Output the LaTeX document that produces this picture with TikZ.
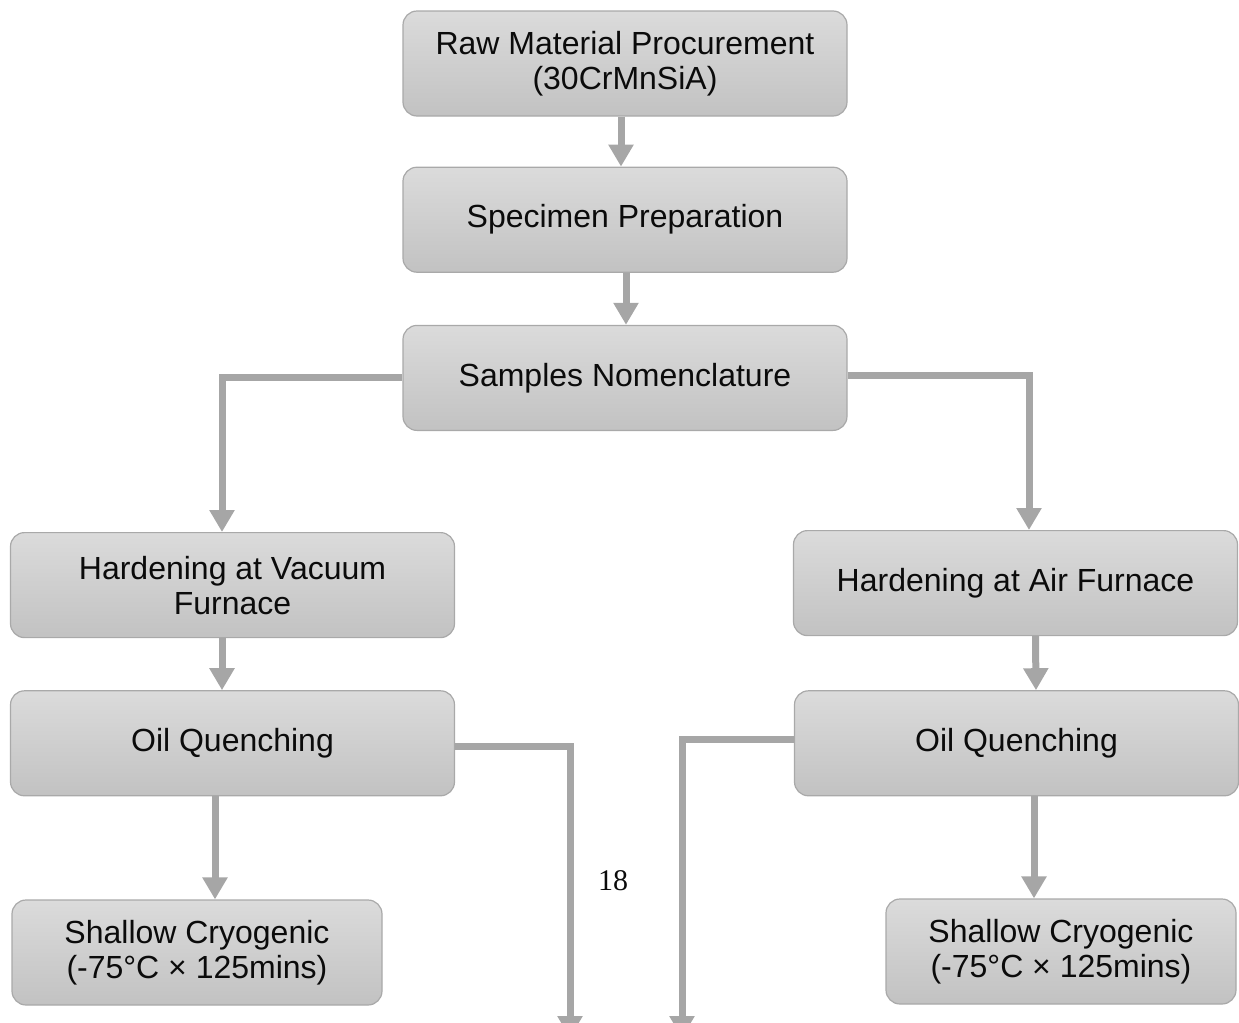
\documentclass[tikz,border=0pt]{standalone}
\usepackage{fontspec}
\setmainfont{Liberation Serif}
\setsansfont{Liberation Sans}
\usetikzlibrary{positioning,calc,arrows.meta}
\definecolor{flowtop}{HTML}{DBDBDB}
\definecolor{flowbot}{HTML}{C2C2C2}
\definecolor{flowedge}{HTML}{A9A9A9}
\definecolor{flowlink}{HTML}{A6A6A6}
\definecolor{flowink}{HTML}{0B0B0B}

\begin{document}
\begin{tikzpicture}[
  font=\sffamily\fontsize{16}{17.5}\selectfont, >={Triangle[length=11pt, width=12pt]},
  box/.style={draw=flowedge, line width=0.6pt, rounded corners=7pt, top color=flowtop, bottom color=flowbot, minimum width=222pt, minimum height=52.5pt, inner sep=2pt, align=center, text=flowink},
  link/.style={->, draw=flowlink, line width=3.5pt},
  pagenum/.style={font=\rmfamily\fontsize{15}{18}\selectfont, text=flowink}]
\useasboundingbox (0,0) rectangle (619.5pt,-511.5pt);
% main chain
\node[box] (raw) at (312.5pt,-31.75pt) {Raw Material Procurement\\(30CrMnSiA)};
\node[box, below=25pt of raw] (spec) {Specimen Preparation};
\node[box, below=26pt of spec] (samp) {Samples Nomenclature};
% vacuum branch
\node[box, below=50.5pt of samp, xshift=-196.25pt] (vac) {Hardening at Vacuum\\Furnace};
\node[box, below=26pt of vac] (oilL) {Oil Quenching};
\node[box, below=51.5pt of oilL, xshift=-17.75pt, minimum width=185pt] (cryoL) {Shallow Cryogenic\\(-75°C × 125mins)};
% air branch
\node[box, below=49.5pt of samp, xshift=195.25pt] (air) {Hardening at Air Furnace};
\node[box, below=27pt of air, xshift=0.5pt] (oilR) {Oil Quenching};
\node[box, below=51pt of oilR, xshift=22.25pt, minimum width=175pt] (cryoR) {Shallow Cryogenic\\(-75°C × 125mins)};
% page number
\node[pagenum] (pnum) at (306.5pt,-440.5pt) {18};
% continuing off the page
\coordinate (outL) at (285pt,-519pt);
\coordinate (outR) at (341pt,-519pt);
% links
\draw[link] ([xshift=-2pt]raw.south) -- ([xshift=-2pt]spec.north);
\draw[link] ([xshift=0.5pt]spec.south) -- ([xshift=0.5pt]samp.north);
\draw[link] (samp.west) -| ([xshift=-5.25pt]vac.north);
\draw[link] ([yshift=1.25pt]samp.east) -| ([xshift=6.75pt]air.north);
\draw[link] ([xshift=-5.25pt]vac.south) -- ([xshift=-5.25pt]oilL.north);
\draw[link] ([xshift=10pt]air.south) -- ([xshift=9.75pt]oilR.north);
\draw[link] ([xshift=9pt]cryoL.north |- oilL.south) -- ([xshift=9pt]cryoL.north);
\draw[link] ([xshift=-13.5pt]cryoR.north |- oilR.south) -- ([xshift=-13.5pt]cryoR.north);
\draw[link] ([yshift=-1.5pt]oilL.east) -| (outL);
\draw[link] ([yshift=1.75pt]oilR.west) -| (outR);
\end{tikzpicture}
\end{document}
